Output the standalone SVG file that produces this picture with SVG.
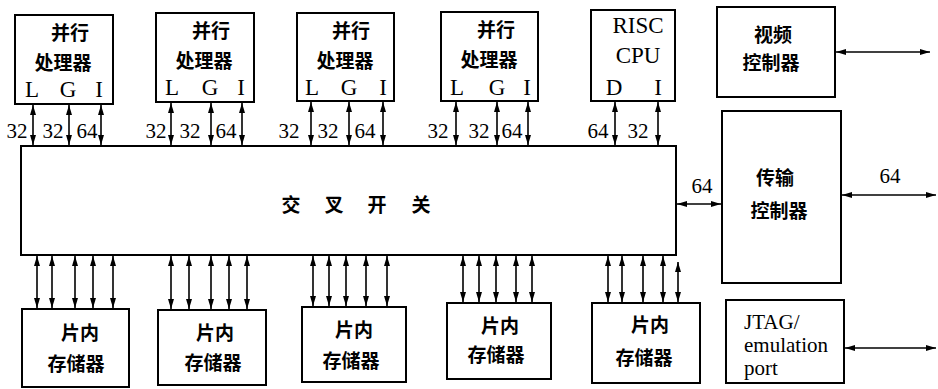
<svg xmlns="http://www.w3.org/2000/svg" width="938" height="389" viewBox="0 0 938 389">
<style>
.box{fill:#fff;stroke:#000;stroke-width:2}
.cn{font-family:"Noto Sans CJK SC","Noto Sans CJK JP",sans-serif;font-size:19px;font-weight:700;fill:#000;text-anchor:middle}
.en{font-family:"Liberation Serif","Times New Roman",serif;font-size:23px;fill:#000;text-anchor:middle}
.enl{font-family:"Liberation Serif","Times New Roman",serif;font-size:21px;fill:#000;text-anchor:start}
.num{font-family:"Liberation Serif","Times New Roman",serif;font-size:21px;fill:#000;text-anchor:middle}
.ar{stroke:#000;stroke-width:1.6;fill:none;marker-start:url(#ah);marker-end:url(#ah)}
</style>
<defs>
<marker id="ah" viewBox="0 0 10 6" refX="10" refY="3" markerWidth="10" markerHeight="6" markerUnits="userSpaceOnUse" orient="auto-start-reverse">
<path d="M0,0 L10,3 L0,6 Z" fill="#000"/>
</marker>
</defs>
<rect width="938" height="389" fill="#fff"/>

<g id="crossbar">
<rect class="box" x="21" y="146" width="655" height="109"/>
<text class="cn" x="291" y="212" font-size="18">交</text>
<text class="cn" x="334" y="212" font-size="18">叉</text>
<text class="cn" x="377" y="212" font-size="18">开</text>
<text class="cn" x="421" y="212" font-size="18">关</text>
</g>

<g id="proc1">
<rect class="box" x="15" y="15" width="98" height="89"/>
<text class="cn" x="70" y="40">并行</text>
<text class="cn" x="63" y="70">处理器</text>
<text class="en" x="32" y="97">L</text><text class="en" x="68" y="97">G</text><text class="en" x="99" y="97">I</text>
</g>
<g id="proc2">
<rect class="box" x="156" y="13" width="98" height="89"/>
<text class="cn" x="211" y="38">并行</text>
<text class="cn" x="204" y="68">处理器</text>
<text class="en" x="172" y="95">L</text><text class="en" x="210" y="95">G</text><text class="en" x="241" y="95">I</text>
</g>
<g id="proc3">
<rect class="box" x="297" y="13" width="97" height="88"/>
<text class="cn" x="351" y="38">并行</text>
<text class="cn" x="345" y="68">处理器</text>
<text class="en" x="312" y="95">L</text><text class="en" x="349" y="95">G</text><text class="en" x="383" y="95">I</text>
</g>
<g id="proc4">
<rect class="box" x="441" y="12" width="97" height="89"/>
<text class="cn" x="496" y="37">并行</text>
<text class="cn" x="489" y="67">处理器</text>
<text class="en" x="457" y="95">L</text><text class="en" x="497" y="95">G</text><text class="en" x="527" y="95">I</text>
</g>
<g id="risc">
<rect class="box" x="591" y="10" width="84" height="91"/>
<text class="en" x="638" y="33">RISC</text>
<text class="en" x="638" y="63">CPU</text>
<text class="en" x="614" y="95">D</text><text class="en" x="658" y="95">I</text>
</g>
<g id="video">
<rect class="box" x="717" y="7" width="118" height="90"/>
<text class="cn" x="773" y="42">视频</text>
<text class="cn" x="771" y="70">控制器</text>
</g>
<g id="transfer">
<rect class="box" x="722" y="111" width="119" height="172"/>
<text class="cn" x="775" y="185">传输</text>
<text class="cn" x="779" y="218">控制器</text>
</g>
<g id="jtag">
<rect class="box" x="726" y="300" width="118" height="83"/>
<text class="enl" x="744" y="329">JTAG/</text>
<text class="enl" x="744" y="352">emulation</text>
<text class="enl" x="744" y="375">port</text>
</g>

<g id="mem1">
<rect class="box" x="22" y="309" width="107" height="78"/>
<text class="cn" x="80" y="340">片内</text>
<text class="cn" x="76" y="371">存储器</text>
</g>
<g id="mem2">
<rect class="box" x="158" y="310" width="108" height="75"/>
<text class="cn" x="215" y="340">片内</text>
<text class="cn" x="213" y="370">存储器</text>
</g>
<g id="mem3">
<rect class="box" x="302" y="307" width="104" height="75"/>
<text class="cn" x="354" y="337">片内</text>
<text class="cn" x="351" y="368">存储器</text>
</g>
<g id="mem4">
<rect class="box" x="447" y="303" width="104" height="76"/>
<text class="cn" x="500" y="333">片内</text>
<text class="cn" x="496" y="362">存储器</text>
</g>
<g id="mem5">
<rect class="box" x="592" y="303" width="108" height="80"/>
<text class="cn" x="650" y="332">片内</text>
<text class="cn" x="644" y="365">存储器</text>
</g>

<g id="connectors">
<line class="ar" x1="33" y1="105" x2="33" y2="145"/>
<line class="ar" x1="69" y1="105" x2="69" y2="145"/>
<line class="ar" x1="101" y1="105" x2="101" y2="145"/>
<line class="ar" x1="171" y1="103" x2="171" y2="145"/>
<line class="ar" x1="211" y1="103" x2="211" y2="145"/>
<line class="ar" x1="242" y1="103" x2="242" y2="145"/>
<line class="ar" x1="311" y1="102" x2="311" y2="145"/>
<line class="ar" x1="349" y1="102" x2="349" y2="145"/>
<line class="ar" x1="383" y1="102" x2="383" y2="145"/>
<line class="ar" x1="456" y1="102" x2="456" y2="145"/>
<line class="ar" x1="497" y1="102" x2="497" y2="145"/>
<line class="ar" x1="528" y1="102" x2="528" y2="145"/>
<line class="ar" x1="615" y1="102" x2="615" y2="145"/>
<line class="ar" x1="658" y1="102" x2="658" y2="145"/>

<line class="ar" x1="37" y1="256" x2="37" y2="308"/>
<line class="ar" x1="52" y1="256" x2="52" y2="308"/>
<line class="ar" x1="75" y1="256" x2="75" y2="308"/>
<line class="ar" x1="93" y1="256" x2="93" y2="308"/>
<line class="ar" x1="113" y1="256" x2="113" y2="308"/>
<line class="ar" x1="171" y1="256" x2="171" y2="309"/>
<line class="ar" x1="189" y1="256" x2="189" y2="309"/>
<line class="ar" x1="211" y1="256" x2="211" y2="309"/>
<line class="ar" x1="229" y1="256" x2="229" y2="309"/>
<line class="ar" x1="247" y1="256" x2="247" y2="309"/>
<line class="ar" x1="313" y1="256" x2="313" y2="306"/>
<line class="ar" x1="329" y1="256" x2="329" y2="306"/>
<line class="ar" x1="346" y1="256" x2="346" y2="306"/>
<line class="ar" x1="366" y1="256" x2="366" y2="306"/>
<line class="ar" x1="387" y1="256" x2="387" y2="306"/>
<line class="ar" x1="463" y1="256" x2="463" y2="302"/>
<line class="ar" x1="479" y1="256" x2="479" y2="302"/>
<line class="ar" x1="496" y1="256" x2="496" y2="302"/>
<line class="ar" x1="516" y1="256" x2="516" y2="302"/>
<line class="ar" x1="532" y1="256" x2="532" y2="302"/>
<line class="ar" x1="608" y1="256" x2="608" y2="302"/>
<line class="ar" x1="622" y1="256" x2="622" y2="302"/>
<line class="ar" x1="643" y1="256" x2="643" y2="302"/>
<line class="ar" x1="663" y1="256" x2="663" y2="302"/>
<line class="ar" x1="678" y1="262" x2="678" y2="302"/>

<line class="ar" x1="677" y1="204" x2="721" y2="204"/>
<line class="ar" x1="842" y1="195" x2="936" y2="195"/>
<line class="ar" x1="836" y1="52" x2="930" y2="52"/>
<line class="ar" x1="845" y1="348" x2="936" y2="348"/>

<text class="num" x="17" y="138">32</text>
<text class="num" x="53" y="138">32</text>
<text class="num" x="87" y="138">64</text>
<text class="num" x="156" y="138">32</text>
<text class="num" x="190" y="138">32</text>
<text class="num" x="226" y="138">64</text>
<text class="num" x="289" y="138">32</text>
<text class="num" x="328" y="138">32</text>
<text class="num" x="365" y="138">64</text>
<text class="num" x="438" y="138">32</text>
<text class="num" x="479" y="138">32</text>
<text class="num" x="512" y="138">64</text>
<text class="num" x="598" y="138">64</text>
<text class="num" x="638" y="138">32</text>
<text class="num" x="702" y="193">64</text>
<text class="num" x="890" y="183">64</text>
</g>
</svg>
